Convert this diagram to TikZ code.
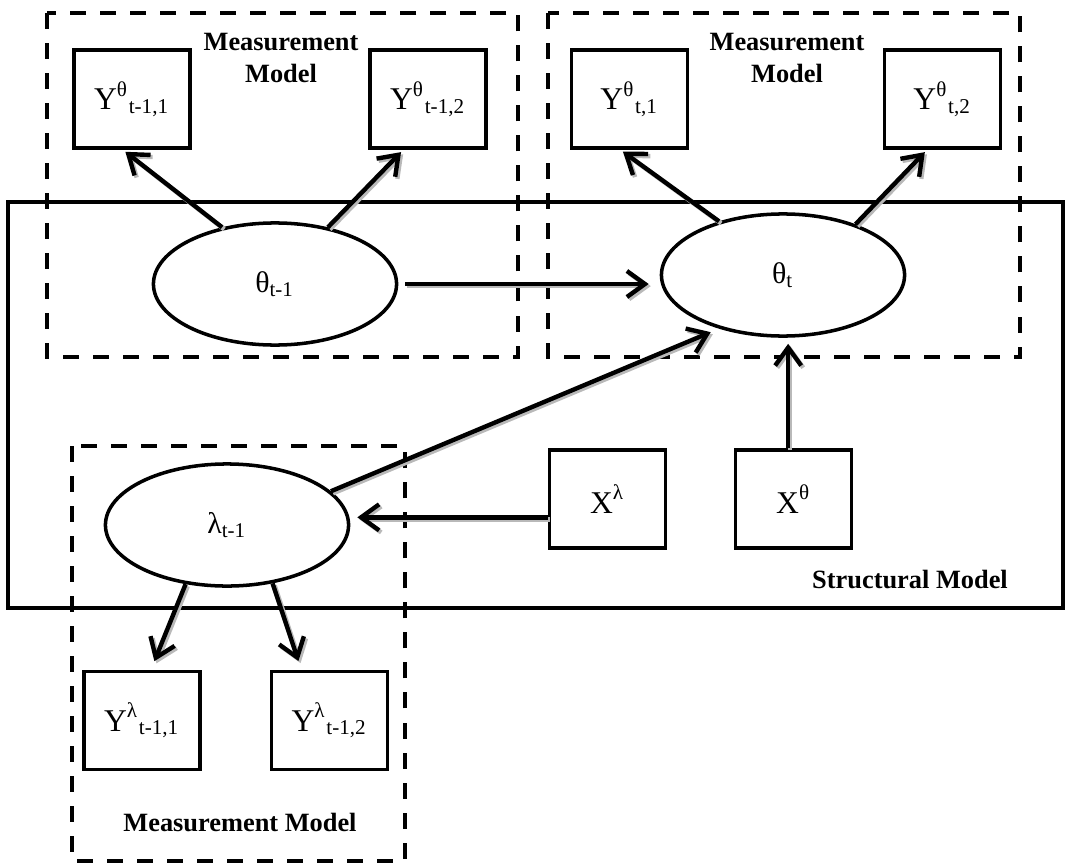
\documentclass[tikz,border=0pt]{standalone}
\usepackage{fontspec}
\setmainfont{Liberation Serif}
\usetikzlibrary{shapes.geometric,arrows.meta}
\tikzset{manifest/.style={rectangle,draw,line width=1.1pt,minimum width=1.16cm,minimum height=0.98cm,inner sep=0pt,font=\fontsize{9}{10}\selectfont}}
\tikzset{latent/.style={ellipse,draw,line width=1pt,minimum width=2.43cm,minimum height=1.22cm,inner sep=0pt,font=\fontsize{8.5}{10}\selectfont}}
\tikzset{group/.style={dash pattern=on 1.6mm off 1.4mm,line width=1.1pt}}
\tikzset{link/.style={-{Straight Barb[length=1.8mm,width=2.6mm]},line width=1.25pt,
  preaction={draw,gray!55,line width=1.25pt,transform canvas={shift={(0.6pt,-0.6pt)}}}}}
\tikzset{heading/.style={font=\fontsize{7.5}{9}\selectfont\bfseries,align=center}}

\begin{document}
\begin{tikzpicture}[x=0.01cm,y=-0.01cm]
  \useasboundingbox (0,0) rectangle (1068,864);
  % frames
  \draw[group] (47,13) rectangle (518,357);
  \draw[group] (548,13) rectangle (1020,357);
  \draw[group] (72,446) rectangle (405,861);
  \draw[line width=1.3pt] (8,202) rectangle (1063,608);
  \node[heading] (mmthA) at (281,58) {Measurement\\Model};
  \node[heading] (mmthB) at (787,58) {Measurement\\Model};
  \node[heading] (mmlam) at (240,822) {Measurement Model};
  \node[heading] (sm) at (910,579) {Structural Model};
  % indicators
  \node[manifest] (ya1) at (132,99) {Y\textsuperscript{θ}\textsubscript{t-1,1}};
  \node[manifest] (ya2) at (428,99) {Y\textsuperscript{θ}\textsubscript{t-1,2}};
  \node[manifest] (yb1) at (629.5,99) {Y\textsuperscript{θ}\textsubscript{t,1}};
  \node[manifest] (yb2) at (942.5,99) {Y\textsuperscript{θ}\textsubscript{t,2}};
  \node[manifest] (yl1) at (142,720.5) {Y\textsuperscript{λ}\textsubscript{t-1,1}};
  \node[manifest] (yl2) at (329.5,720.5) {Y\textsuperscript{λ}\textsubscript{t-1,2}};
  \node[manifest] (xl) at (607.5,499) {X\textsuperscript{λ}};
  \node[manifest] (xt) at (793.5,499) {X\textsuperscript{θ}};
  % latent factors
  \node[latent] (th1) at (275,284) {θ\textsubscript{t-1}};
  \node[latent] (th2) at (783,275) {θ\textsubscript{t}};
  \node[latent] (lam) at (227,525) {λ\textsubscript{t-1}};
  % loadings
  \draw[link,shorten >=0.3mm] (th1.133) -- (ya1.-100);
  \draw[link,shorten >=0.3mm] (th1.47) -- (ya2.-116);
  \draw[link,shorten >=0.3mm] (th2.140) -- (yb1.-100);
  \draw[link,shorten >=0.3mm] (th2.35) -- (yb2.-107);
  \draw[link,shorten >=0.9mm] (lam.-125) -- (yl1.80);
  \draw[link,shorten >=0.9mm] (lam.-52) -- (yl2.119);
  % structural paths
  \draw[link,shorten <=0.7mm,shorten >=1.1mm] (th1.east) -- (th1.east -| th2.west);
  \draw[link,shorten >=0.9mm] (lam.18) -- (th2.-140);
  \draw[link,shorten >=0.6mm] (xt.96) -- (xt.96 |- th2.south);
  \draw[link,shorten >=0.7mm] (xl.-163) -- (xl.-163 -| lam.east);
\end{tikzpicture}
\end{document}
